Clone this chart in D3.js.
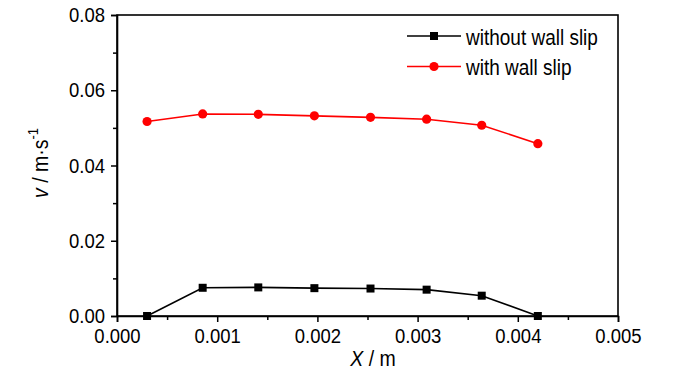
<!DOCTYPE html>
<html>
<head>
	<meta charset="utf-8">
	<script src="https://d3js.org/d3.v7.min.js"></script>
	<style type="text/css">
		body { margin: 0; background: #fff; }
		text { font-family: "Liberation Sans", Arial, sans-serif; }
	</style>
</head>
<body>
	<div id="chart"></div>
	<script type="text/javascript">
	// data
	var xs = [0.0003, 0.000855, 0.00141, 0.00197, 0.00253, 0.00309, 0.00364, 0.0042];
	var noSlip = [0.0, 0.0075, 0.0076, 0.0074, 0.0073, 0.0070, 0.0054, 0.0];
	var withSlip = [0.0517, 0.0537, 0.0536, 0.0532, 0.0528, 0.0523, 0.0507, 0.0458];
	var xTicks = [0, 0.001, 0.002, 0.003, 0.004, 0.005];
	var yTicks = [0, 0.02, 0.04, 0.06, 0.08];
	var seriesNames = ["without wall slip", "with wall slip"];

	var W = 700, H = 374;
	var m = {left: 117, top: 15, right: 82, bottom: 58};
	var stretch = 'scale(1,1.12)'; // the original text is a bit taller than it is wide
	var svg = d3.select('#chart').append('svg').attr('width', W).attr('height', H);

	var x = d3.scaleLinear().domain([0, 0.005]).range([m.left, W - m.right]);
	var y = d3.scaleLinear().domain([0, 0.08]).range([H - m.bottom, m.top]);

	// frame (top and right sides without ticks)
	svg.append('rect')
		.attr('x', x(0)).attr('y', y(0.08))
		.attr('width', x(0.005) - x(0)).attr('height', y(0) - y(0.08))
		.attr('fill', 'none').attr('stroke', '#000').attr('stroke-width', 1.6);

	// minor ticks
	var xMinor = d3.range(0.0005, 0.005, 0.001);
	var yMinor = d3.range(0.01, 0.08, 0.02);
	svg.append('g').attr('transform', 'translate(0,' + y(0) + ')')
		.call(d3.axisBottom(x).tickValues(xMinor).tickSize(4).tickFormat(''))
		.call(function(g) { g.select('.domain').remove(); g.selectAll('line').attr('stroke-width', 1.5); });
	svg.append('g').attr('transform', 'translate(' + x(0) + ',0)')
		.call(d3.axisLeft(y).tickValues(yMinor).tickSize(4).tickFormat(''))
		.call(function(g) { g.select('.domain').remove(); g.selectAll('line').attr('stroke-width', 1.5); });

	// major axes
	var xAxis = svg.append('g').attr('transform', 'translate(0,' + y(0) + ')')
		.call(d3.axisBottom(x).tickValues(xTicks).tickSize(6).tickPadding(5).tickFormat(d3.format('.3f')));
	var yAxis = svg.append('g').attr('transform', 'translate(' + x(0) + ',0)')
		.call(d3.axisLeft(y).tickValues(yTicks).tickSize(6).tickPadding(6).tickFormat(d3.format('.2f')));
	[xAxis, yAxis].forEach(function(g) {
		g.select('.domain').attr('stroke-width', 1.6);
		g.selectAll('line').attr('stroke-width', 1.5);
		g.selectAll('text').attr('font-size', 18.5).attr('fill', '#000')
			.attr('transform', stretch)
			.attr('font-family', '"Liberation Sans", Arial, sans-serif');
	});

	// axis titles
	var xt = svg.append('text').attr('transform', 'translate(373,366) ' + stretch)
		.attr('text-anchor', 'middle').attr('font-size', 19.5);
	xt.append('tspan').attr('font-style', 'italic').text('X');
	xt.append('tspan').text(' / m');

	var yt = svg.append('text').attr('transform', 'translate(48,163) rotate(-90) ' + stretch)
		.attr('text-anchor', 'middle').attr('font-size', 19.5);
	yt.append('tspan').attr('font-style', 'italic').text('v');
	yt.append('tspan').text(' / m\u00b7s');
	yt.append('tspan').attr('font-size', 13).attr('dy', -9).text('-1');

	// series
	var line = d3.line().x(function(d) { return x(d[0]); }).y(function(d) { return y(d[1]); });
	var blackPts = xs.map(function(v, i) { return [v, noSlip[i]]; });
	var redPts = xs.map(function(v, i) { return [v, withSlip[i]]; });

	svg.append('path').datum(blackPts).attr('d', line)
		.attr('fill', 'none').attr('stroke', '#000').attr('stroke-width', 1.6);
	svg.selectAll('.sq').data(blackPts).enter().append('rect')
		.attr('x', function(d) { return x(d[0]) - 4; })
		.attr('y', function(d) { return y(d[1]) - 4; })
		.attr('width', 8).attr('height', 8).attr('fill', '#000');

	svg.append('path').datum(redPts).attr('d', line)
		.attr('fill', 'none').attr('stroke', '#ff0000').attr('stroke-width', 1.6);
	svg.selectAll('.dot').data(redPts).enter().append('circle')
		.attr('cx', function(d) { return x(d[0]); })
		.attr('cy', function(d) { return y(d[1]); })
		.attr('r', 4.6).attr('fill', '#ff0000');

	// legend
	var leg = svg.append('g');
	var legY = [36, 66.5];
	var legCol = ['#000', '#ff0000'];
	seriesNames.forEach(function(name, i) {
		leg.append('line').attr('x1', 407).attr('x2', 461).attr('y1', legY[i]).attr('y2', legY[i])
			.attr('stroke', legCol[i]).attr('stroke-width', 1.6);
		if (i === 0) {
			leg.append('rect').attr('x', 430).attr('y', legY[i] - 4).attr('width', 8).attr('height', 8).attr('fill', '#000');
		} else {
			leg.append('circle').attr('cx', 434).attr('cy', legY[i]).attr('r', 4.6).attr('fill', '#ff0000');
		}
		leg.append('text').attr('transform', 'translate(466,' + (legY[i] + 8.5) + ') ' + stretch)
			.attr('font-size', 19).attr('fill', '#000').text(name);
	});
	</script>
</body>
</html>
